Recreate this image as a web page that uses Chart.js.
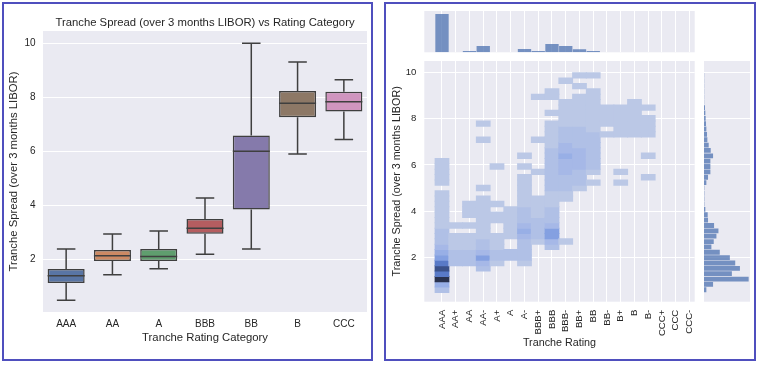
<!DOCTYPE html>
<html><head><meta charset="utf-8">
<script src="https://cdn.jsdelivr.net/npm/chart.js@4.4.1/dist/chart.umd.min.js"></script>
<style>
html,body{margin:0;padding:0;background:#fff;}
#wrap{position:relative;width:758px;height:366px;overflow:hidden;background:#fff;}
.panel{position:absolute;box-sizing:border-box;border:2px solid #4f4fbe;background:#fff;}
canvas{position:absolute;left:0;top:0;}
</style></head><body>
<div id="wrap">
<div class="panel" style="left:2px;top:2px;width:371px;height:359px"></div>
<div class="panel" style="left:384px;top:2px;width:372px;height:359px"></div>
<canvas id="boxChart" width="758" height="366"></canvas>
<canvas id="jointChart" width="758" height="366"></canvas>
<canvas id="margTopChart" width="758" height="366"></canvas>
<canvas id="margRightChart" width="758" height="366"></canvas>
</div>
<script>
// ---------- Left panel: box plot data ----------
const boxCategories = ['AAA','AA','A','BBB','BB','B','CCC'];
const boxWhiskerLow  = [0.48, 1.43, 1.65, 2.19, 2.38, 5.90, 6.44];
const boxQ1          = [1.12, 1.94, 1.94, 2.95, 3.84, 7.26, 7.47];
const boxMedian      = [1.39, 2.13, 2.10, 3.15, 6.00, 7.78, 7.84];
const boxQ3          = [1.64, 2.34, 2.38, 3.49, 6.59, 8.23, 8.21];
const boxWhiskerHigh = [2.38, 2.94, 3.05, 4.27, 10.0, 9.31, 8.65];
const spreadTicks = [2, 4, 6, 8, 10];

// ---------- Right panel: joint histogram data ----------
const ratings = ['AAA','AA+','AA','AA-','A+','A','A-','BBB+','BBB','BBB-','BB+','BB','BB-','B+','B','B-','CCC+','CCC','CCC-'];
const ratingCounts = [115, 0.3, 4, 19, 0.3, 0.3, 10, 4, 25, 19, 9, 4, 0.3, 0.3, 0.3, 0.3, 0, 0, 0];
const spreadBinStart = 0.48;
const spreadBinWidth = 0.232;
const spreadBinCounts = [7,27,133,83,107,93,77,47,22,29,37,43,30,12,11,4,1,1,1,1,7,12,19,19,19,27,20,14,10,9,7,6,5,4,3,0.5,0.5,0.5,0.5,0.5,0.5];

// per-rating counts in each spread bin (41 bins)
const cellsAAA  = [2,4,10,7,9,7,5,4,3,2,2,2,1,1,1,1,1,1,1,0,1,1,1,1,1,0,0,0,0,0,0,0,0,0,0,0,0,0,0,0,0];
const cellsAAp  = [0,0,0,0,0,2,2,2,1,1,1,0,1,0,0,0,0,0,0,0,0,0,0,0,0,0,0,0,0,0,0,0,0,0,0,0,0,0,0,0,0];
const cellsAA   = [0,0,0,0,0,2,2,2,1,1,1,0,1,0,1,1,1,0,0,0,0,0,0,0,0,0,0,0,0,0,0,0,0,0,0,0,0,0,0,0,0];
const cellsAAm  = [0,0,0,0,2,3,5,3,2,2,1,1,1,1,1,1,1,1,0,1,0,0,0,0,0,0,0,0,1,0,0,1,0,0,0,0,0,0,0,0,0];
const cellsAp   = [0,0,0,0,0,1,2,2,1,1,1,0,0,1,1,0,1,0,0,0,0,0,0,1,0,0,0,0,0,0,0,0,0,0,0,0,0,0,0,0,0];
const cellsA    = [0,0,0,0,0,0,2,2,0,0,1,1,1,1,1,1,0,0,0,0,0,0,0,0,0,0,0,0,0,0,0,0,0,0,0,0,0,0,0,0,0];
const cellsAm   = [0,0,0,0,0,1,2,2,2,2,3,4,3,2,2,2,1,1,1,1,1,1,0,1,0,1,0,0,0,0,0,0,0,0,0,0,0,0,0,0,0];
const cellsBBBp = [0,0,0,0,0,0,0,0,0,1,2,2,2,2,1,1,1,1,0,0,0,0,1,0,0,0,0,0,1,0,0,0,0,0,0,0,1,0,0,0,0];
const cellsBBB  = [0,0,0,0,0,0,0,0,2,3,5,5,3,2,2,2,1,1,1,2,2,2,2,2,2,2,2,1,1,1,1,1,0,1,0,0,1,1,0,0,0];
const cellsBBBm = [0,0,0,0,0,0,0,0,0,1,0,0,0,0,0,0,0,1,1,2,2,2,3,3,3,4,3,3,2,2,2,1,1,1,1,1,0,0,0,1,0];
const cellsBBp  = [0,0,0,0,0,0,0,0,0,0,0,0,0,0,0,0,0,0,0,1,2,2,2,3,3,3,3,2,2,2,2,1,1,1,1,1,1,0,1,0,1];
const cellsBB   = [0,0,0,0,0,0,0,0,0,0,0,0,0,0,0,0,0,0,0,0,1,0,1,2,2,2,2,2,2,2,1,1,1,1,1,1,1,1,0,0,1];
const cellsBBm  = [0,0,0,0,0,0,0,0,0,0,0,0,0,0,0,0,0,0,0,0,0,0,0,0,0,0,0,0,0,1,0,1,1,1,1,0,0,0,0,0,0];
const cellsBp   = [0,0,0,0,0,0,0,0,0,0,0,0,0,0,0,0,0,0,0,0,1,0,1,0,0,0,0,0,0,1,1,1,1,1,1,0,0,0,0,0,0];
const cellsB    = [0,0,0,0,0,0,0,0,0,0,0,0,0,0,0,0,0,0,0,0,0,0,0,0,0,0,0,0,0,1,1,1,1,1,1,1,0,0,0,0,0];
const cellsBm   = [0,0,0,0,0,0,0,0,0,0,0,0,0,0,0,0,0,0,0,0,0,1,0,0,0,1,0,0,0,1,1,1,1,0,1,0,0,0,0,0,0];
const heatColumns = [cellsAAA, cellsAAp, cellsAA, cellsAAm, cellsAp, cellsA, cellsAm, cellsBBBp, cellsBBB, cellsBBBm, cellsBBp, cellsBB, cellsBBm, cellsBp, cellsB, cellsBm];

// ---------- styles ----------
const FONT = "'Liberation Sans', Arial, Helvetica, sans-serif";
const TEXT = '#262626';
const PLOT_BG = '#eaeaf2';
const boxColors = ['#5975a4','#cc8963','#5f9e6e','#b55d60','#857aab','#8d7866','#d095bf'];
const LINE_GRAY = '#3f3f3f';
const HIST_COLOR = 'rgba(76,114,176,0.75)';
const heatRamp = [[0,[187,200,230]],[0.3,[158,179,231]],[0.5,[122,152,222]],[0.7,[82,116,194]],[0.88,[60,84,142]],[1,[42,50,78]]];
const heatMaxLevel = 10;

function heatColor(count){
  const t = Math.max(0, Math.min(1, (count - 1) / (heatMaxLevel - 1)));
  for (let j = 1; j < heatRamp.length; j++) {
    if (t <= heatRamp[j][0]) {
      const [t0, c0] = heatRamp[j-1], [t1, c1] = heatRamp[j];
      const f = (t - t0) / (t1 - t0);
      return 'rgb(' + c0.map((c, n) => Math.round(c + (c1[n] - c) * f)).join(',') + ')';
    }
  }
  return 'rgb(42,50,78)';
}

const plotBg = {
  id: 'plotBg',
  beforeDraw(chart){
    const {ctx, chartArea:a} = chart;
    ctx.save(); ctx.fillStyle = PLOT_BG; ctx.fillRect(a.left, a.top, a.right - a.left, a.bottom - a.top); ctx.restore();
  }
};

// ---------- Box chart ----------
const boxPlugin = {
  id: 'boxParts',
  beforeDatasetsDraw(chart){
    const {ctx} = chart; const y = chart.scales.y; const meta = chart.getDatasetMeta(0);
    ctx.save(); ctx.strokeStyle = LINE_GRAY; ctx.lineWidth = 1.5;
    meta.data.forEach((bar, i) => {
      const x = bar.x, hw = bar.width / 4;
      ctx.beginPath();
      ctx.moveTo(x, y.getPixelForValue(boxQ3[i])); ctx.lineTo(x, y.getPixelForValue(boxWhiskerHigh[i]));
      ctx.moveTo(x, y.getPixelForValue(boxQ1[i])); ctx.lineTo(x, y.getPixelForValue(boxWhiskerLow[i]));
      ctx.moveTo(x - hw, y.getPixelForValue(boxWhiskerHigh[i])); ctx.lineTo(x + hw, y.getPixelForValue(boxWhiskerHigh[i]));
      ctx.moveTo(x - hw, y.getPixelForValue(boxWhiskerLow[i])); ctx.lineTo(x + hw, y.getPixelForValue(boxWhiskerLow[i]));
      ctx.stroke();
    });
    ctx.restore();
  },
  afterDatasetsDraw(chart){
    const {ctx} = chart; const y = chart.scales.y; const meta = chart.getDatasetMeta(0);
    ctx.save(); ctx.strokeStyle = LINE_GRAY; ctx.lineWidth = 1.5;
    meta.data.forEach((bar, i) => {
      const py = y.getPixelForValue(boxMedian[i]);
      ctx.beginPath(); ctx.moveTo(bar.x - bar.width/2, py); ctx.lineTo(bar.x + bar.width/2, py); ctx.stroke();
    });
    ctx.restore();
  }
};

new Chart(document.getElementById('boxChart'), {
  type: 'bar',
  data: {
    labels: boxCategories,
    datasets: [{
      data: boxQ1.map((q, i) => [q, boxQ3[i]]),
      backgroundColor: boxColors,
      borderColor: LINE_GRAY, borderWidth: 1.5, borderSkipped: false,
      barPercentage: 0.8, categoryPercentage: 1.0
    }]
  },
  options: {
    responsive: false, animation: false, events: [],
    layout: {padding: {left: 0, right: 391, top: 0, bottom: 14}},
    plugins: {
      legend: {display: false}, tooltip: {enabled: false},
      title: {display: true, fullSize: false, text: 'Tranche Spread (over 3 months LIBOR) vs Rating Category',
              color: TEXT, font: {family: FONT, size: 11.3, weight: 'normal'}, padding: {top: 16.2, bottom: 1.24}}
    },
    scales: {
      x: {
        grid: {display: false, drawTicks: false}, border: {display: false},
        afterFit: s => { s.height = 40; },
        ticks: {color: TEXT, font: {family: FONT, size: 10}, padding: 6.5, maxRotation: 0},
        title: {display: true, text: 'Tranche Rating Category', color: TEXT, font: {family: FONT, size: 11.3}, padding: {top: 0, bottom: 7.7}}
      },
      y: {
        min: 0.048, max: 10.456,
        afterBuildTicks: s => { s.ticks = spreadTicks.map(v => ({value: v})); },
        afterFit: s => { s.width = 43; },
        grid: {color: '#ffffff', lineWidth: 1, drawTicks: false}, border: {display: false},
        ticks: {color: TEXT, font: {family: FONT, size: 10}, padding: 7.5},
        title: {display: true, text: 'Tranche Spread (over 3 months LIBOR)', color: TEXT, font: {family: FONT, size: 11.3}, padding: {top: 7.2, bottom: 0}}
      }
    }
  },
  plugins: [plotBg, boxPlugin]
});

// ---------- Joint histogram ----------
const heatPoints = [], heatColors = [];
heatColumns.forEach((col, i) => {
  col.forEach((c, k) => {
    if (c > 0) {
      const lo = spreadBinStart + k * spreadBinWidth;
      heatPoints.push({x: i, y: [lo, lo + spreadBinWidth]});
      heatColors.push(heatColor(c));
    }
  });
});

const X_MIN = -1.287, X_MAX = 18.38;
const Y_MIN = 0.08, Y_MAX = 10.5;

new Chart(document.getElementById('jointChart'), {
  type: 'bar',
  data: {datasets: [{data: heatPoints, backgroundColor: heatColors, borderWidth: 0,
                     barPercentage: 1, categoryPercentage: 1, inflateAmount: 0.5}]},
  options: {
    responsive: false, animation: false, events: [],
    layout: {padding: {left: 385, right: 758 - 694.7, top: 61, bottom: 366 - 349.75}},
    plugins: {legend: {display: false}, tooltip: {enabled: false}},
    scales: {
      x: {
        type: 'linear', min: X_MIN, max: X_MAX, offset: false,
        afterBuildTicks: s => { s.ticks = ratings.map((_, i) => ({value: i})); },
        afterFit: s => { s.height = 48.05; },
        grid: {color: '#ffffff', lineWidth: 1, drawTicks: false, offset: false}, border: {display: false},
        ticks: {color: TEXT, font: {family: FONT, size: 9.6}, padding: 8, minRotation: 90, maxRotation: 90, autoSkip: false,
                callback: v => ratings[v]},
        title: {display: true, text: 'Tranche Rating', color: TEXT, font: {family: FONT, size: 10.75}, padding: {top: 0, bottom: 0}}
      },
      y: {
        type: 'linear', min: Y_MIN, max: Y_MAX,
        afterBuildTicks: s => { s.ticks = spreadTicks.map(v => ({value: v})); },
        afterFit: s => { s.width = 424.3 - 385; },
        grid: {color: '#ffffff', lineWidth: 1, drawTicks: false}, border: {display: false},
        ticks: {color: TEXT, font: {family: FONT, size: 9.6}, padding: 8},
        title: {display: true, text: 'Tranche Spread (over 3 months LIBOR)', color: TEXT, font: {family: FONT, size: 10.75}, padding: {top: 5.25, bottom: 0}}
      }
    }
  },
  plugins: [plotBg]
});

// ---------- Top marginal ----------
new Chart(document.getElementById('margTopChart'), {
  type: 'bar',
  data: {datasets: [{data: ratingCounts.map((c, i) => ({x: i, y: c})), backgroundColor: HIST_COLOR, borderWidth: 0,
                     barPercentage: 0.97, categoryPercentage: 1}]},
  options: {
    responsive: false, animation: false, events: [],
    layout: {padding: {left: 424.3, right: 758 - 694.7, top: 11, bottom: 366 - 52.3}},
    plugins: {legend: {display: false}, tooltip: {enabled: false}},
    scales: {
      x: {
        type: 'linear', min: X_MIN, max: X_MAX, offset: false,
        afterBuildTicks: s => { s.ticks = ratings.map((_, i) => ({value: i})); },
        afterFit: s => { s.height = 0; },
        grid: {color: '#ffffff', lineWidth: 1, drawTicks: false, offset: false}, border: {display: false},
        ticks: {display: false}
      },
      y: {display: false, min: 0, max: 124}
    }
  },
  plugins: [plotBg]
});

// ---------- Right marginal ----------
new Chart(document.getElementById('margRightChart'), {
  type: 'bar',
  data: {datasets: [{data: spreadBinCounts.map((c, k) => ({y: spreadBinStart + (k + 0.5) * spreadBinWidth, x: c})),
                     backgroundColor: HIST_COLOR, borderWidth: 0, barPercentage: 0.9, categoryPercentage: 1}]},
  options: {
    indexAxis: 'y',
    responsive: false, animation: false, events: [],
    layout: {padding: {left: 704, right: 8, top: 61, bottom: 366 - 301.7}},
    plugins: {legend: {display: false}, tooltip: {enabled: false}},
    scales: {
      y: {
        type: 'linear', min: Y_MIN, max: Y_MAX, offset: false,
        afterBuildTicks: s => { s.ticks = spreadTicks.map(v => ({value: v})); },
        afterFit: s => { s.width = 0; },
        grid: {color: '#ffffff', lineWidth: 1, drawTicks: false, offset: false}, border: {display: false},
        ticks: {display: false}
      },
      x: {display: false, min: 0, max: 137}
    }
  },
  plugins: [plotBg]
});
</script>
</body></html>
